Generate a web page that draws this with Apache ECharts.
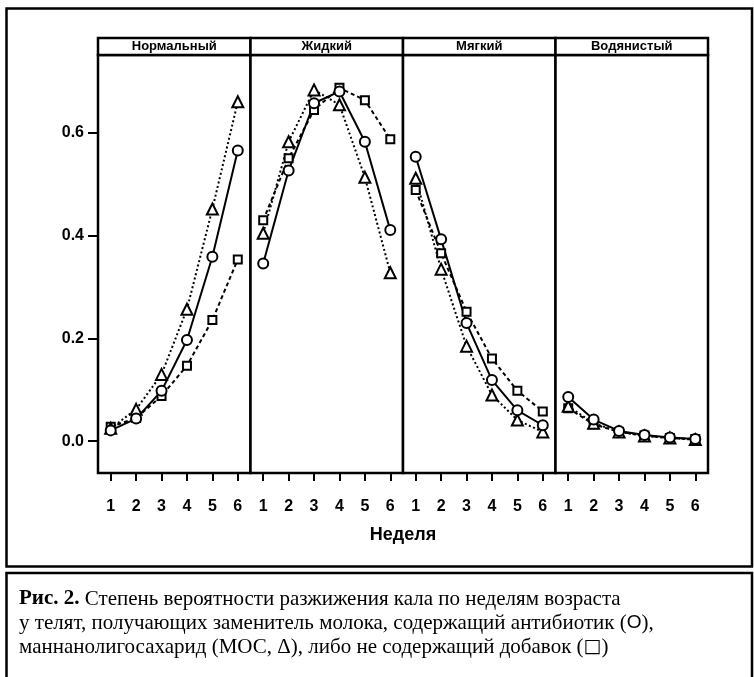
<!DOCTYPE html>
<html><head><meta charset="utf-8">
<script src="https://cdn.jsdelivr.net/npm/echarts@6/dist/echarts.min.js"></script>
<style>html,body{margin:0;padding:0;background:#fff}#c{width:754px;height:677px}</style>
</head><body><div id="c"></div>
<script>
const panels = ['Нормальный', 'Жидкий', 'Мягкий', 'Водянистый'];
const weeks = ['1', '2', '3', '4', '5', '6'];
const yTicks = [0, 0.2, 0.4, 0.6];
const xTitle = 'Неделя';
// antibiotic (circle)
const antibiotic = [
  [0.021, 0.044, 0.098, 0.197, 0.359, 0.566],
  [0.346, 0.527, 0.658, 0.681, 0.583, 0.411],
  [0.554, 0.393, 0.230, 0.119, 0.060, 0.031],
  [0.086, 0.042, 0.020, 0.012, 0.007, 0.004]
];
// MOS (triangle)
const mos = [
  [0.025, 0.062, 0.130, 0.257, 0.452, 0.661],
  [0.405, 0.583, 0.684, 0.655, 0.514, 0.328],
  [0.512, 0.335, 0.185, 0.090, 0.041, 0.018],
  [0.068, 0.035, 0.018, 0.010, 0.006, 0.003]
];
// no additive (square)
const control = [
  [0.028, 0.045, 0.088, 0.147, 0.236, 0.354],
  [0.430, 0.551, 0.645, 0.688, 0.664, 0.588],
  [0.489, 0.366, 0.252, 0.161, 0.098, 0.058],
  [0.064, 0.033, 0.018, 0.011, 0.006, 0.004]
];

const gridLefts = [98, 250.5, 403, 555.5];
const gridW = 152.5, gridTop = 55, gridH = 418;

const grids = [], xAxes = [], yAxes = [], series = [], graphics = [];
panels.forEach((p, i) => {
  grids.push({left: gridLefts[i], top: gridTop, width: gridW, height: gridH,
    show: true, borderColor: '#000', borderWidth: 2.5, backgroundColor: '#fff'});
  xAxes.push({type: 'category', gridIndex: i, data: weeks, boundaryGap: true,
    axisLine: {show: false, onZero: false},
    axisTick: {show: true, alignWithLabel: true, length: 8, lineStyle: {color: '#000', width: 2}},
    axisLabel: {color: '#000', fontFamily: 'Liberation Sans', fontWeight: 'bold', fontSize: 16, margin: 26},
    splitLine: {show: false}});
  yAxes.push({type: 'value', gridIndex: i, min: -0.062, max: 0.752,
    axisLine: {show: false, onZero: false},
    axisTick: {show: i === 0, length: 10, customValues: yTicks, lineStyle: {color: '#000', width: 2}},
    axisLabel: {show: i === 0, customValues: yTicks, formatter: v => v.toFixed(1), color: '#000',
      fontFamily: 'Liberation Sans', fontWeight: 'bold', fontSize: 16, margin: 14},
    splitLine: {show: false}});
  const mk = (name, data, symbol, size, dash) => ({
    name, type: 'line', xAxisIndex: i, yAxisIndex: i, data,
    symbol, symbolSize: size, showAllSymbol: true,
    lineStyle: {color: '#000', width: 2, type: dash},
    itemStyle: {color: '#fff', borderColor: '#000', borderWidth: 2},
    emphasis: {disabled: true}, animation: false
  });
  series.push(mk('control', control[i], 'rect', 8, [4, 3]));
  series.push(mk('mos', mos[i], 'triangle', 11, [2, 2.5]));
  series.push(mk('antibiotic', antibiotic[i], 'circle', 10, 'solid'));
  graphics.push({type: 'rect', shape: {x: gridLefts[i], y: 38, width: gridW, height: 17},
    style: {fill: '#fff', stroke: '#000', lineWidth: 2.5}, z: 10});
  graphics.push({type: 'text', x: gridLefts[i] + gridW / 2, y: 46.5, z: 11,
    style: {text: p, fill: '#000', font: 'bold 13px "Liberation Sans"', align: 'center', verticalAlign: 'middle'}});
});

graphics.push({type: 'rect', shape: {x: 6.5, y: 8.5, width: 745.5, height: 558},
  style: {fill: 'none', stroke: '#000', lineWidth: 2.5}, z: 5});
graphics.push({type: 'rect', shape: {x: 6.5, y: 573, width: 745.5, height: 110},
  style: {fill: 'none', stroke: '#000', lineWidth: 2.5}, z: 5});
graphics.push({type: 'text', x: 403, y: 535, z: 11,
  style: {text: xTitle, fill: '#000', font: 'bold 18px "Liberation Sans"', align: 'center', verticalAlign: 'middle'}});

const serif = 'Liberation Serif';
const capLines = [
  '{b|Рис. 2.}{n| Степень вероятности разжижения кала по неделям возраста}',
  '{n|у телят, получающих заменитель молока, содержащий антибиотик (}{s|O}{n|),}',
  '{n|маннанолигосахарид (МОС, Δ), либо не содержащий добавок (}{q|□}{n|)}'
];
graphics.push({type: 'text', x: 19, y: 587, z: 11,
  style: {text: capLines.join('\n'), fill: '#000', fontFamily: serif, fontSize: 21, lineHeight: 24,
    rich: {
      b: {fontFamily: serif, fontSize: 21, fontWeight: 'bold', lineHeight: 24, fill: '#000'},
      n: {fontFamily: serif, fontSize: 21, lineHeight: 24, fill: '#000'},
      s: {fontFamily: 'Liberation Sans', fontSize: 19, lineHeight: 24, fill: '#000'},
      q: {fontFamily: 'DejaVu Sans', fontSize: 19, lineHeight: 24, fill: '#000'}
    }}});

const chart = echarts.init(document.getElementById('c'), null, {renderer: 'canvas'});
chart.setOption({
  backgroundColor: '#fff', animation: false,
  grid: grids, xAxis: xAxes, yAxis: yAxes, series, graphic: graphics
});
</script></body></html>
